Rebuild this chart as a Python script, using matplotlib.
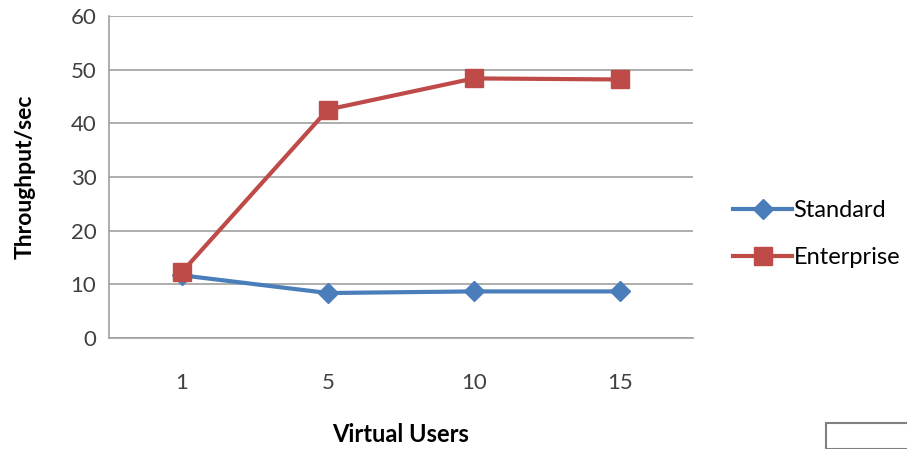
import matplotlib.pyplot as plt
from matplotlib.patches import Rectangle

plt.rcParams['font.family'] = ['Lato', 'DejaVu Sans']

users = ["1", "5", "10", "15"]
standard = [11.7, 8.4, 8.7, 8.7]
enterprise = [12.3, 42.6, 48.4, 48.2]

fig = plt.figure(figsize=(9.07, 4.49), dpi=100)
ax = fig.add_axes([0.120, 0.247, 0.644, 0.717])

x = range(len(users))
ax.plot(x, standard, color='#4a7ebb', lw=3, marker='D', ms=10,
        label='Standard', zorder=3)
ax.plot(x, enterprise, color='#be4b48', lw=3, marker='s', ms=13,
        label='Enterprise', zorder=4)

ax.set_xlim(-0.5, len(users) - 0.5)
ax.set_ylim(0, 60)
ax.set_yticks(range(0, 61, 10))
ax.set_xticks(list(x))
ax.set_xticklabels(users)
ax.yaxis.grid(True, color='#a0a0a0', lw=1.2)
ax.set_axisbelow(True)
for s in ['top', 'right']:
    ax.spines[s].set_visible(False)
for s in ['left', 'bottom']:
    ax.spines[s].set_color('#a0a0a0')
    ax.spines[s].set_linewidth(1.2)
ax.tick_params(length=0, labelsize=16, colors='#404040', pad=9)
ax.tick_params(axis='x', pad=25)

ax.set_xlabel('Virtual Users', fontsize=17, fontweight='bold', labelpad=22)
ax.set_ylabel('Throughput/sec', fontsize=16.5, fontweight='bold', labelpad=25)

fig.legend(loc='center left', bbox_to_anchor=(0.785, 0.478), frameon=False,
           fontsize=17, handlelength=2.5, handletextpad=0.05, labelspacing=1.1)

fig.patches.append(Rectangle((826 / 907, 0), 0.2, 26 / 449, transform=fig.transFigure,
                             fill=False, edgecolor='#808080', lw=1.5))

fig.savefig('out.png', dpi=100)
